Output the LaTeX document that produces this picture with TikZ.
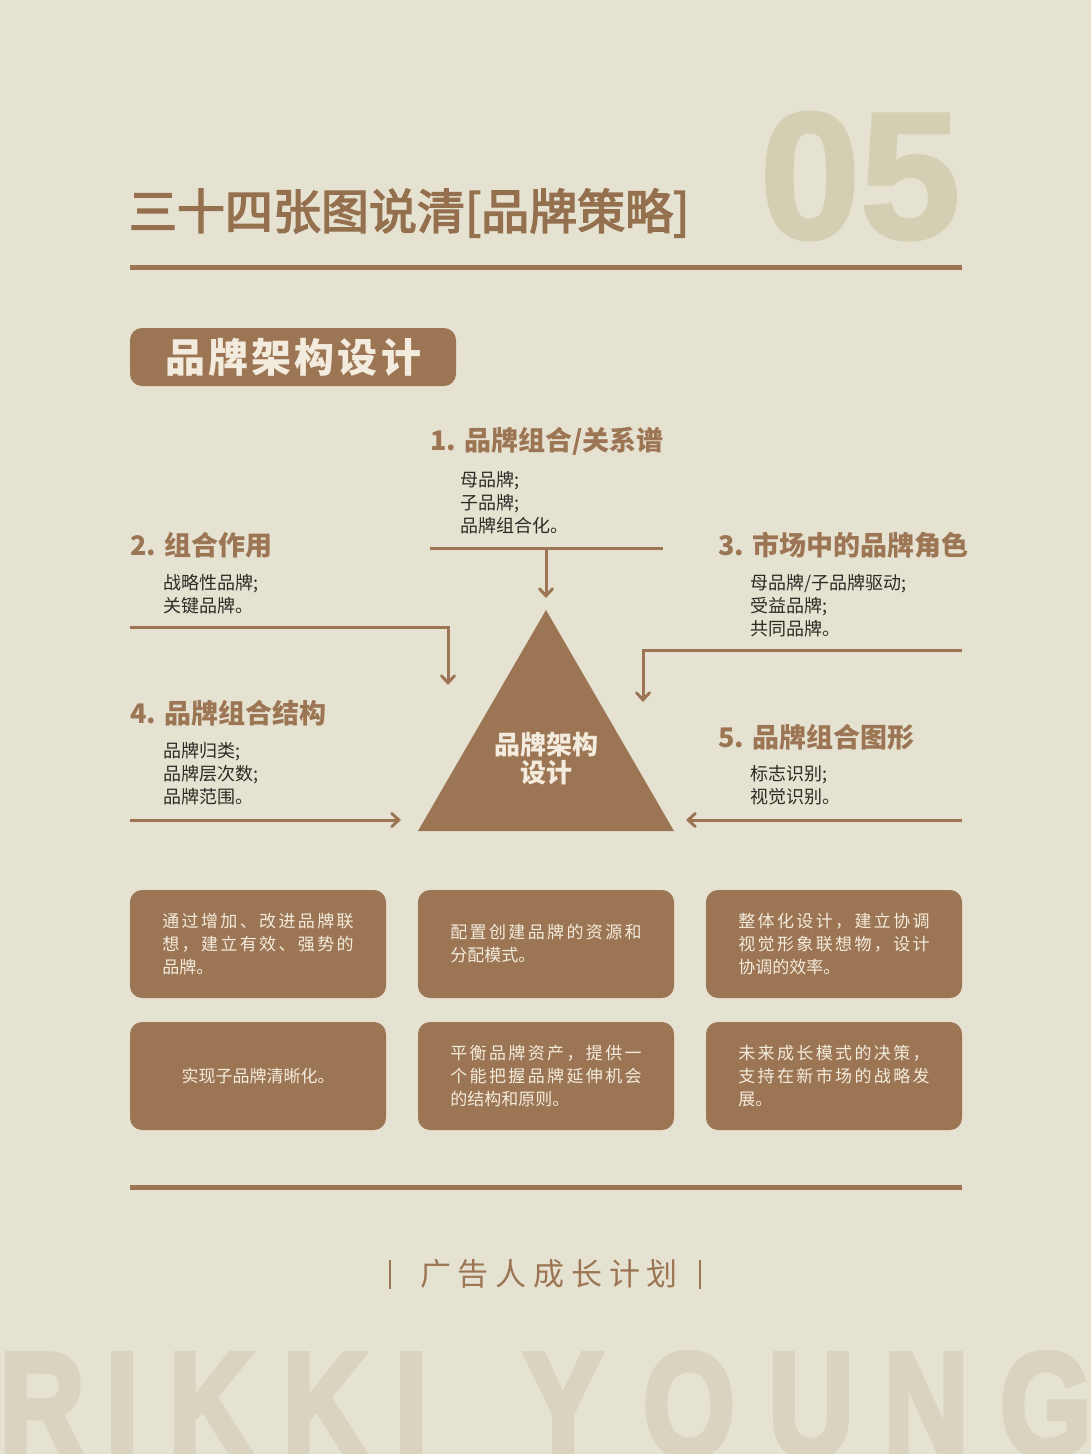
\documentclass[tikz,border=0pt]{standalone}
\usepackage{fontspec}
\usetikzlibrary{arrows.meta}
\newfontfamily\cjk{Noto Sans CJK SC}
\newfontfamily\cjkmed[FakeBold=3]{Noto Sans CJK SC}
\newfontfamily\cjksp[LetterSpace=14]{Noto Sans CJK SC}
\newfontfamily\cjkwide[LetterSpace=22]{Noto Sans CJK SC}
\newfontfamily\cjkhdr[LetterSpace=8]{Noto Sans CJK SC}
\newfontfamily\latbold[FakeBold=2]{Liberation Sans}
\newfontfamily\latheavy[FakeBold=4]{Liberation Sans}
\definecolor{bg}{HTML}{E6E2D1}
\definecolor{brn}{HTML}{9C7654}
\definecolor{ttl}{HTML}{94704F}
\definecolor{dark}{HTML}{2E2A26}
\definecolor{cream}{HTML}{F3EBDD}
\definecolor{numc}{HTML}{D4CEB3}
\definecolor{wmark}{HTML}{D9D3BF}
\tikzset{
  every node/.style={inner sep=0pt, outer sep=0pt},
  heading/.style={anchor=west, text=brn, font=\fontsize{27}{27}\selectfont\cjk\bfseries},
  items/.style={anchor=west, align=left, text=dark, font=\fontsize{18}{23}\selectfont\cjk},
  conn/.style={draw=brn, line width=3pt},
  arr/.style={conn, -{Straight Barb[length=7pt,width=13pt,line cap=round]}},
  rule/.style={draw=brn, line width=5pt},
  infobox/.style={fill=brn, rounded corners=12pt, minimum width=256pt, minimum height=108pt,
    align=left, text=cream, font=\fontsize{17}{23}\selectfont\cjk},
  wm/.style={anchor=base, text=wmark, xscale=0.8, font=\fontsize{148}{148}\selectfont\latheavy\bfseries}
}
\begin{document}
\begin{tikzpicture}[x=1pt,y=-1pt]
\useasboundingbox (0,0) rectangle (1091,1454);
\fill[bg] (0,0) rectangle (1091,1454);

% watermark
\node[wm] (w1) at (42,1456) {R};
\node[wm] (w2) at (122,1456) {I};
\node[wm] (w3) at (211,1456) {K};
\node[wm] (w4) at (325,1456) {K};
\node[wm] (w5) at (411,1456) {I};
\node[wm] (w6) at (563,1456) {Y};
\node[wm] (w7) at (689,1456) {O};
\node[wm] (w8) at (811,1456) {U};
\node[wm] (w9) at (926,1456) {N};
\node[wm] (w10) at (1046,1456) {G};

% big number
\node[anchor=base west, text=numc, font=\fontsize{180}{180}\selectfont\latbold\bfseries] (num) at (760,238) {05};

% title
\node[anchor=west, text=ttl, font=\fontsize{48}{48}\selectfont\cjkmed] (title) at (129,213) {三十四张图说清[品牌策略]};

\coordinate (r1a) at (130,267);
\coordinate (r1b) at (962,267);
\draw[rule] (r1a) -- (r1b);

% header box
\node[fill=brn, rounded corners=12pt, minimum width=326pt, minimum height=58pt, text=cream,
  font=\fontsize{40}{40}\selectfont\cjkhdr\bfseries] (hdr) at (293,357) {品牌架构设计};

% headings and items
\node[heading] (h1) at (430,441) {1. 品牌组合/关系谱};
\node[items] (i1) at (460,503) {母品牌;\\子品牌;\\品牌组合化。};
\node[heading] (h2) at (130,545) {2. 组合作用};
\node[items] (i2) at (163,594.5) {战略性品牌;\\关键品牌。};
\node[heading] (h3) at (718,545) {3. 市场中的品牌角色};
\node[items] (i3) at (750,606) {母品牌/子品牌驱动;\\受益品牌;\\共同品牌。};
\node[heading] (h4) at (130,713) {4. 品牌组合结构};
\node[items] (i4) at (163,774) {品牌归类;\\品牌层次数;\\品牌范围。};
\node[heading] (h5) at (718,737) {5. 品牌组合图形};
\node[items] (i5) at (750,785.5) {标志识别;\\视觉识别。};

% triangle
\coordinate (ta) at (546,610);
\coordinate (tl) at (418,831);
\coordinate (tr) at (674,831);
\fill[brn] (ta) -- (tl) -- (tr) -- cycle;
\node[align=center, text=cream, font=\fontsize{26}{28}\selectfont\cjk\bfseries] (tri) at (546,759) {品牌架构\\设计};

% connectors
\coordinate (c1a) at (430,548);
\coordinate (c1b) at (663,548);
\coordinate (c1m) at (546,548);
\coordinate (c1e) at (546,598);
\draw[conn] (c1a) -- (c1b);
\draw[arr] (c1m) -- (c1e);

\coordinate (c2a) at (130,627);
\coordinate (c2m) at (448,627);
\coordinate (c2e) at (448,685);
\draw[arr] (c2a) -- (c2m) -- (c2e);

\coordinate (c3a) at (962,650);
\coordinate (c3m) at (643,650);
\coordinate (c3e) at (643,702);
\draw[arr] (c3a) -- (c3m) -- (c3e);

\coordinate (c4a) at (130,820);
\coordinate (c4e) at (401,820);
\draw[arr] (c4a) -- (c4e);

\coordinate (c5a) at (962,820);
\coordinate (c5e) at (686,820);
\draw[arr] (c5a) -- (c5e);

% info boxes
\node[infobox] (b1) at (258,944) {{\cjksp 通过增加、改进品牌联}\\{\cjksp 想，建立有效、强势的}\\品牌。};
\node[infobox] (b2) at (546,944) {{\cjksp 配置创建品牌的资源和}\\分配模式。};
\node[infobox] (b3) at (834,944) {{\cjksp 整体化设计，建立协调}\\{\cjksp 视觉形象联想物，设计}\\协调的效率。};
\node[infobox, align=center] (b4) at (258,1076) {实现子品牌清晰化。};
\node[infobox] (b5) at (546,1076) {{\cjksp 平衡品牌资产，提供一}\\{\cjksp 个能把握品牌延伸机会}\\的结构和原则。};
\node[infobox] (b6) at (834,1076) {{\cjksp 未来成长模式的决策，}\\{\cjksp 支持在新市场的战略发}\\展。};

\coordinate (r2a) at (130,1187);
\coordinate (r2b) at (962,1187);
\draw[rule] (r2a) -- (r2b);

% footer
\node[text=brn, font=\fontsize{31}{31}\selectfont\cjkwide] (foot) at (549,1274) {广告人成长计划};
\coordinate (bl1) at (390,1260);
\coordinate (bl2) at (390,1289);
\coordinate (br1) at (700,1260);
\coordinate (br2) at (700,1289);
\draw[draw=brn, line width=2.5pt] (bl1) -- (bl2);
\draw[draw=brn, line width=2.5pt] (br1) -- (br2);
\end{tikzpicture}
\end{document}
